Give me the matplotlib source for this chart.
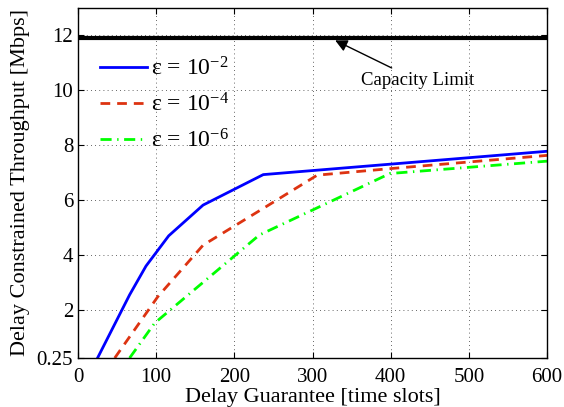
import matplotlib
matplotlib.use("Agg")
import matplotlib.pyplot as plt

plt.rcParams['font.family'] = ['Liberation Serif', 'DejaVu Serif']
plt.rcParams['mathtext.fontset'] = 'custom'
plt.rcParams['mathtext.rm'] = 'Liberation Serif'
plt.rcParams['mathtext.it'] = 'Liberation Serif:italic'

# values
delay_e2 = [25, 66, 87, 116, 160, 237, 600]
thr_e2 = [0.25, 2.55, 3.6, 4.7, 5.82, 6.93, 7.78]

delay_e4 = [47, 102, 160, 237, 306, 400, 600]
thr_e4 = [0.25, 2.48, 4.36, 5.7, 6.91, 7.15, 7.63]

delay_e6 = [66, 98, 232, 306, 399, 600]
thr_e6 = [0.25, 1.52, 4.73, 5.72, 6.97, 7.42]

capacity = 11.9
x_ticks = [0, 100, 200, 300, 400, 500, 600]
y_ticks = [0.25, 2, 4, 6, 8, 10, 12]
y_labels = ['0.25', '2', '4', '6', '8', '10', '12']


fig = plt.figure(figsize=(5.64, 4.07), dpi=100)
ax = fig.add_axes([0.1383, 0.1204, 0.8316, 0.8600])

ax.axhline(capacity, color='black', linewidth=3)

ax.plot(delay_e2, thr_e2, color='#0000FF', linewidth=2,
        label='ε = 10$^{-2}$')
ax.plot(delay_e4, thr_e4, color='#DD3311', linewidth=2,
        linestyle=(0, (3.5, 2.5)), label='ε = 10$^{-4}$')
ax.plot(delay_e6, thr_e6, color='#00FF00', linewidth=2,
        linestyle=(0, (4, 2, 0.5, 2)), label='ε = 10$^{-6}$')

ax.annotate('Capacity Limit', xy=(329, capacity - 0.08), xytext=(434, 10.36),
            ha='center', va='center', fontsize=13.5,
            arrowprops=dict(arrowstyle='-|>', color='black', lw=1.0,
                            mutation_scale=18, shrinkA=2, shrinkB=0))

ax.set(xlim=[0, 600], ylim=[0.25, 13])
ax.set_xticks(x_ticks)
ax.set_yticks(y_ticks)
ax.set_yticklabels(y_labels)
ax.tick_params(direction='in', top=True, right=True, labelsize=15,
               length=4, width=0.8)
ax.tick_params(axis='x', pad=7)
ax.grid(True, linestyle=(0, (1, 4)), color='#333333', linewidth=0.6)
for s in ax.spines.values():
    s.set_linewidth(1)

ax.set_xlabel('Delay Guarantee [time slots]', fontsize=16, labelpad=1)
ax.set_ylabel('Delay Constrained Throughput [Mbps]', fontsize=16, labelpad=5)

ax.legend(loc='upper left', bbox_to_anchor=(0.047, 0.86), frameon=False,
          fontsize=17, handlelength=2.0, handletextpad=0.15,
          labelspacing=0.55, borderaxespad=0, borderpad=0)

fig.savefig('out.png', dpi=100)
